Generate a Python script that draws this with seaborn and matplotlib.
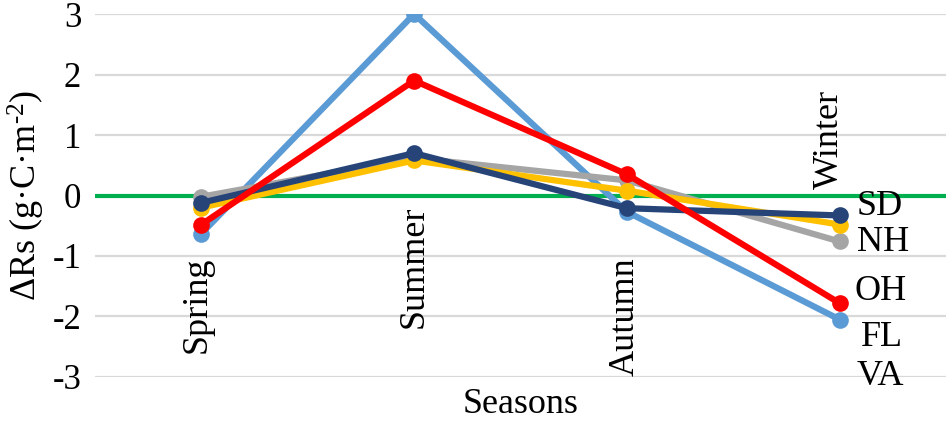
import pandas as pd
import matplotlib
matplotlib.use("Agg")
import matplotlib.pyplot as plt
import seaborn as sns

# Data
seasons = ["Spring", "Summer", "Autumn", "Winter"]
sites = ["SD", "NH", "OH", "FL", "VA"]
sd = [-0.12, 0.70, -0.21, -0.33]
nh = [-0.02, 0.62, 0.25, -0.76]
oh = [-0.48, 1.90, 0.35, -1.78]
fl = [-0.63, 3.00, -0.27, -2.05]
va = [-0.20, 0.58, 0.08, -0.48]

colors = {"SD": "#264478", "NH": "#A5A5A5", "OH": "#FF0000",
          "FL": "#5B9BD5", "VA": "#FFC000"}
draw_order = ["FL", "NH", "VA", "SD", "OH"]

# Build long-form table
values = {"SD": sd, "NH": nh, "OH": oh, "FL": fl, "VA": va}
rows = []
for s in sites:
    for i, season in enumerate(seasons):
        rows.append({"pos": i, "Season": season, "Site": s, "value": values[s][i]})
df = pd.DataFrame(rows)

sns.set_style("white")
plt.rcParams["font.family"] = ["Liberation Serif", "DejaVu Serif"]
plt.rcParams["mathtext.fontset"] = "custom"
plt.rcParams["mathtext.rm"] = "Liberation Serif"
plt.rcParams["mathtext.it"] = "Liberation Serif:italic"
plt.rcParams["text.color"] = "black"
plt.rcParams["axes.labelcolor"] = "black"
plt.rcParams["ytick.color"] = "black"

fig = plt.figure(figsize=(9.53, 4.25), dpi=100)
ax = fig.add_axes([0.0997, 0.113, 0.893, 0.854])

# gridlines
for yv in [-3, -2, -1, 1, 2, 3]:
    ax.axhline(yv, color="#D9D9D9", lw=1.6, zorder=0)
ax.axhline(0, color="#00B050", lw=3, zorder=1)

sns.lineplot(data=df, x="pos", y="value", hue="Site", hue_order=draw_order,
             palette=colors, marker="o", markersize=12, markeredgewidth=0,
             linewidth=4.5, sort=False, legend=False, ax=ax, zorder=3)

ax.set_xlim(-0.5, 3.5)
ax.set_ylim(-3, 3)
ax.set_yticks([-3, -2, -1, 0, 1, 2, 3])
ax.set_yticklabels(["-3", "-2", "-1", "0", "1", "2", "3"], fontsize=25)
ax.set_xticks([])
ax.tick_params(axis="y", length=0, pad=10)
for sp in ax.spines.values():
    sp.set_visible(False)

# category labels sit near the zero line, rotated
label_y = [-1.81, -1.18, -2.01, 0.92]
label_dx = [-0.02, 0.0, -0.01, -0.05]
for i, season in enumerate(seasons):
    ax.text(i + label_dx[i], label_y[i], season, rotation=90, fontsize=26,
            ha="center", va="center", zorder=4)

# series names on the right
name_y = [-0.19, -0.78, -1.59, -2.35, -2.99]
name_x = [3.08, 3.08, 3.07, 3.10, 3.08]
for n, xv, yv in zip(sites, name_x, name_y):
    ax.text(xv, yv, n, fontsize=26, ha="left", va="center", clip_on=False)

ax.set_xlabel("Seasons", fontsize=26, labelpad=8)
ax.set_ylabel("ΔRs (g·C·m$^{\u20102}$)", fontsize=26, labelpad=4)

fig.savefig("out.png", dpi=100)
